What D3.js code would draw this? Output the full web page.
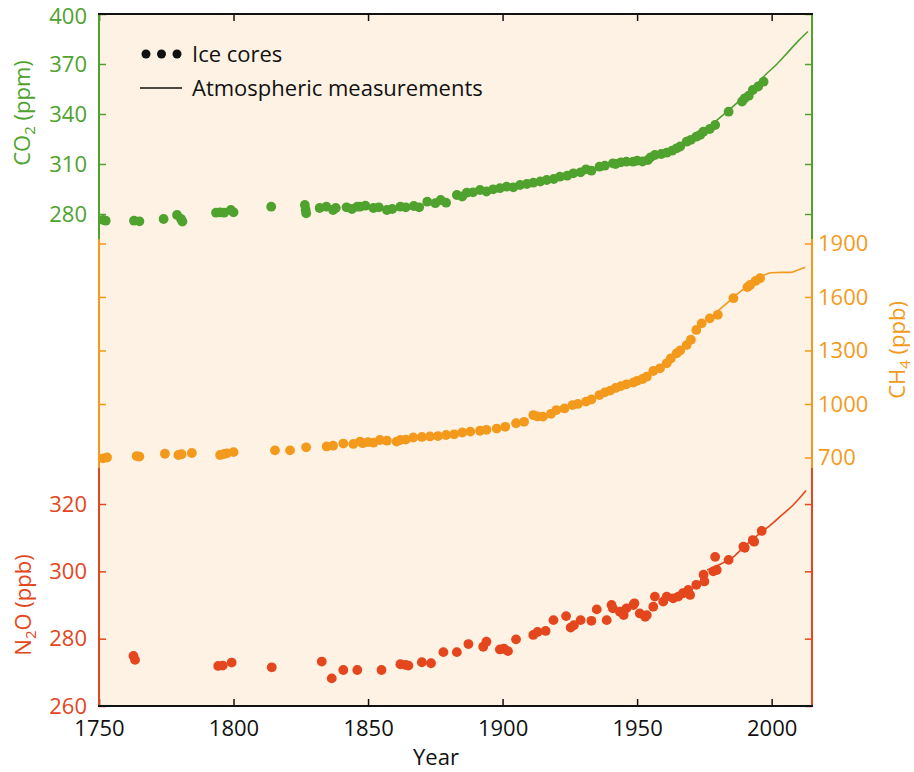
<!DOCTYPE html>
<html>
<head>
<meta charset="utf-8">
<script src="https://cdnjs.cloudflare.com/ajax/libs/d3/7.8.5/d3.min.js"></script>
<style>
  body { margin: 0; background: #fff; }
  svg text { font-family: "Open Sans", "DejaVu Sans", sans-serif; }
</style>
</head>
<body>
<div id="vis"></div>
<script>
// ice core samples, [year, value]
const co2Ice = [
  [1751.5,276.5],[1752.5,276],[1763,276],[1765,275.6],[1774,277],[1779,279.4],[1780.5,277],[1781,275.5],
  [1793.5,280.8],[1795,281],[1796.5,280.8],[1799,282.4],[1800,281],[1814,284.4],[1826.5,285.4],[1826.8,282.5],
  [1827,280.4],[1832,283.6],[1834.5,284.4],[1837,282.4],[1838,283.6],[1842,284],[1844,283],[1846,284.4],
  [1847,284.4],[1849,285],[1852,283.6],[1854,284],[1857,282.4],[1859,283],[1862,284.4],[1864,284],
  [1867,284.8],[1869,284],[1872,287.4],[1875,286.5],[1877,288.4],[1879,286.8],[1883,291.4],[1885,290.5],
  [1886.7,292.8],[1889,293],[1891.6,294.4],[1894,293.5],[1896.5,294.8],[1899,295.5],[1901.5,296.4],[1904,296],
  [1906.5,297.4],[1909,298],[1911.4,298.8],[1914,299.5],[1916.4,300.4],[1919,301],[1921.3,302.4],[1924,303],
  [1926.3,304.4],[1929,305],[1931,306.8],[1933,306],[1936,308.4],[1938,309],[1941,310.4],[1942,310],
  [1944,311],[1946,311.4],[1948.5,311.4],[1950,312],[1952,311.5],[1954,312.4],[1955,314],[1956.6,315.4],
  [1959,316],[1961,316.8],[1963,318],[1964.7,319.4],[1966,320.5],[1968.4,323.4],[1970,324.5],[1972,326.4],
  [1973.5,327.5],[1974.6,329.4],[1977,331],[1979,333.4],[1984,341.4],[1989,347.5],[1990,349.4],[1991.5,351],
  [1993,354.4],[1995,356.5],[1997,359.4]
];
const ch4Ice = [
  [1751.5,695],[1753,700],[1764,708],[1765,705],[1774.5,721],[1779.5,714],[1780.7,718],[1784.5,725],
  [1795,714],[1796.5,720],[1797.5,723],[1800,730],[1815.4,740],[1821,740],[1827,757],[1834.6,762],
  [1837,766],[1840.8,778],[1844.5,776],[1847,789],[1848,780],[1850,786],[1852,783],[1854.4,798],
  [1857,794],[1860.6,789],[1862,798],[1864,800],[1866.8,812],[1870,815],[1873,818],[1876,820],
  [1879,826],[1882,830],[1885,840],[1888,845],[1891.6,850],[1894,855],[1897.8,862],[1901,872],
  [1905,892],[1908,900],[1911.4,938],[1913,930],[1915,929],[1918,945],[1920,966],[1923,975],
  [1926,994],[1928,1000],[1931,1013],[1933,1025],[1936,1050],[1938,1065],[1940,1075],[1942,1090],
  [1944,1100],[1946,1110],[1948.6,1120],[1950,1130],[1952,1140],[1953.6,1153],[1956,1185],[1958.5,1200],
  [1961,1228],[1962.5,1255],[1964.7,1284],[1966,1300],[1968.4,1330],[1970,1360],[1972,1415],[1974,1452],
  [1977,1480],[1980,1500],[1985.8,1593],[1991,1655],[1992,1667],[1994,1690],[1995.7,1705]
];
const n2oIce = [
  [1762.8,274.9],[1763.4,273.7],[1794.3,271.9],[1796,272],[1799.3,272.9],[1814.2,271.5],[1832.8,273.2],
  [1836.5,268.2],[1840.8,270.7],[1846,270.7],[1855,270.7],[1862,272.4],[1864,272.2],[1865,272],
  [1870,273],[1873.4,272.7],[1878,276],[1883,276],[1887.3,278.4],[1892.8,277.6],[1894,279.1],
  [1899,276.8],[1900.5,277],[1902,276.3],[1905,279.8],[1911.4,281.1],[1913,282],[1916,282.3],
  [1918.9,285.5],[1923.6,286.7],[1925.3,283.3],[1926.5,284],[1929,285.5],[1933,285.3],[1935,288.7],
  [1938.7,285.5],[1940.5,290],[1941,289],[1943.6,288],[1945,287],[1946,289],[1948.6,290],[1949,290.5],
  [1951,287.5],[1953,286.5],[1953.6,287],[1956,289.5],[1956.6,292.5],[1959.7,291],[1961,292.5],
  [1963.4,292],[1965.3,292.5],[1967,293.5],[1969,294.5],[1969.7,293],[1972,296],[1974.7,299],
  [1975,297],[1978.3,300],[1979,304.3],[1979.6,300.4],[1984,303.4],[1989.5,307.3],[1990,307],
  [1993,309.3],[1993.5,308.8],[1996.3,312]
];
// atmospheric measurements
const co2Atm = [[1958,315],[1962,318],[1966,321],[1970,325],[1974,329.5],[1978,334],[1982,339.5],
  [1986,345],[1990,351],[1994,357],[1998,364],[2002,370],[2006,377],[2010,384],[2013.5,389.5]];
const ch4Atm = [[1979,1510],[1983,1560],[1986,1600],[1990,1650],[1994,1700],[1998,1728],[2000,1736],
  [2004,1738],[2007,1738],[2010,1752],[2012.5,1766]];
const n2oAtm = [[1976,300.4],[1980,301.8],[1985.8,304.3],[1990,307.5],[1995.7,311.3],[2000,314],
  [2003,316.2],[2008,319.7],[2012.8,324]];

const yearTicks = [1750, 1800, 1850, 1900, 1950, 2000];
const co2Ticks = [280, 310, 340, 370, 400];
const ch4Ticks = [700, 1000, 1300, 1600, 1900];
const n2oTicks = [260, 280, 300, 320];

const green = "#4fa22e", orange = "#f39a1d", red = "#e4461d";
const W = 914, H = 772;
const mLeft = 99, mRight = 812, mTop = 14, mBottom = 706;
const cut1 = 239, cut2 = 468;   // where the stacked y axes meet

const svg = d3.select("#vis").append("svg").attr("width", W).attr("height", H);

const x = d3.scaleLinear().domain([1750, 2015]).range([mLeft, mRight]);
const yCO2 = d3.scaleLinear().domain([265, 400]).range([cut1, mTop]);
const yCH4 = d3.scaleLinear().domain([641, 1925]).range([cut2, cut1]);
const yN2O = d3.scaleLinear().domain([260, 330.7]).range([mBottom, cut2]);

svg.append("rect").attr("x", mLeft).attr("y", mTop)
  .attr("width", mRight - mLeft).attr("height", mBottom - mTop).attr("fill", "#fdf2e3");

// series
const series = [
  {ice: co2Ice, atm: co2Atm, y: yCO2, c: green},
  {ice: ch4Ice, atm: ch4Atm, y: yCH4, c: orange},
  {ice: n2oIce, atm: n2oAtm, y: yN2O, c: red}
];
series.forEach(s => {
  svg.append("path").datum(s.atm)
    .attr("fill", "none").attr("stroke", s.c).attr("stroke-width", 1.6)
    .attr("d", d3.line().x(d => x(d[0])).y(d => s.y(d[1])).curve(d3.curveMonotoneX));
  svg.append("g").selectAll("circle").data(s.ice).join("circle")
    .attr("cx", d => x(d[0])).attr("cy", d => s.y(d[1])).attr("r", 4.9).attr("fill", s.c);
});

// axes
function styleAxis(g, color, labels) {
  g.select(".domain").remove();
  g.selectAll("line").attr("stroke", color).attr("stroke-width", 1.5);
  g.selectAll("text").attr("fill", color).attr("font-size", 22)
    .style("display", labels ? null : "none");
}
const tk = -7, pad = 12, fmt = d3.format("d");
svg.append("g").attr("transform", `translate(${mLeft},0)`)
  .call(d3.axisLeft(yCO2).tickValues(co2Ticks).tickFormat(fmt).tickSize(tk).tickPadding(pad))
  .call(g => styleAxis(g, green, true))
  .call(g => g.selectAll("text").filter(d => d === 400).attr("dy", "0.45em"));
svg.append("g").attr("transform", `translate(${mLeft},0)`)
  .call(d3.axisLeft(yCH4).tickValues(ch4Ticks).tickSize(tk).tickPadding(pad))
  .call(g => styleAxis(g, orange, false));
svg.append("g").attr("transform", `translate(${mLeft},0)`)
  .call(d3.axisLeft(yN2O).tickValues(n2oTicks).tickFormat(fmt).tickSize(tk).tickPadding(pad))
  .call(g => styleAxis(g, red, true));
svg.append("g").attr("transform", `translate(${mRight},0)`)
  .call(d3.axisRight(yCO2).tickValues(co2Ticks).tickSize(tk).tickPadding(pad))
  .call(g => styleAxis(g, green, false));
svg.append("g").attr("transform", `translate(${mRight},0)`)
  .call(d3.axisRight(yCH4).tickValues(ch4Ticks).tickFormat(fmt).tickSize(tk).tickPadding(6))
  .call(g => styleAxis(g, orange, true));
svg.append("g").attr("transform", `translate(${mRight},0)`)
  .call(d3.axisRight(yN2O).tickValues(n2oTicks).tickSize(tk).tickPadding(pad))
  .call(g => styleAxis(g, red, false));

svg.append("g").attr("transform", `translate(0,${mBottom})`)
  .call(d3.axisBottom(x).tickValues(yearTicks).tickFormat(fmt).tickSize(tk).tickPadding(14))
  .call(g => styleAxis(g, "#111", true));
svg.append("g").attr("transform", `translate(0,${mTop})`)
  .call(d3.axisTop(x).tickValues(yearTicks).tickSize(tk))
  .call(g => styleAxis(g, "#111", false));

// coloured side lines and black frame
const sides = [
  [mLeft, yCO2.range(), green], [mLeft, yCH4.range(), orange], [mLeft, yN2O.range(), red],
  [mRight, yCO2.range(), green], [mRight, yCH4.range(), orange], [mRight, yN2O.range(), red]
];
sides.forEach(([sx, r, c]) => {
  svg.append("line").attr("x1", sx).attr("x2", sx).attr("y1", r[0]).attr("y2", r[1])
    .attr("stroke", c).attr("stroke-width", 2);
});
[mTop, mBottom].forEach(yy => {
  svg.append("line").attr("x1", mLeft - 1).attr("x2", mRight + 1).attr("y1", yy).attr("y2", yy)
    .attr("stroke", "#111").attr("stroke-width", 2);
});

// axis titles
function title(cx, cy, color, main, sub, rest) {
  const t = svg.append("text").attr("transform", `translate(${cx},${cy}) rotate(-90)`)
    .attr("text-anchor", "middle").attr("fill", color).attr("font-size", 22);
  t.append("tspan").text(main);
  t.append("tspan").attr("font-size", 15).attr("dy", 5).text(sub);
  t.append("tspan").attr("dy", -5).text(rest);
}
title(30, 113, green, "CO", "2", " (ppm)");
title(905, 350, orange, "CH", "4", " (ppb)");
title(31, 605, red, "N", "2", "O (ppb)");

svg.append("text").attr("x", 436).attr("y", 765).attr("text-anchor", "middle")
  .attr("font-size", 22).attr("fill", "#111").text("Year");

// legend
const lg = svg.append("g");
lg.selectAll("circle").data([0, 1, 2]).join("circle")
  .attr("cx", d => 146 + d * 15.5).attr("cy", 54).attr("r", 4.5).attr("fill", "#111");
lg.append("text").attr("x", 192).attr("y", 62).attr("font-size", 22).attr("fill", "#111").text("Ice cores");
lg.append("line").attr("x1", 140).attr("x2", 182).attr("y1", 88).attr("y2", 88)
  .attr("stroke", "#111").attr("stroke-width", 1.5);
lg.append("text").attr("x", 192).attr("y", 96).attr("font-size", 22).attr("fill", "#111").text("Atmospheric measurements");
</script>
</body>
</html>
